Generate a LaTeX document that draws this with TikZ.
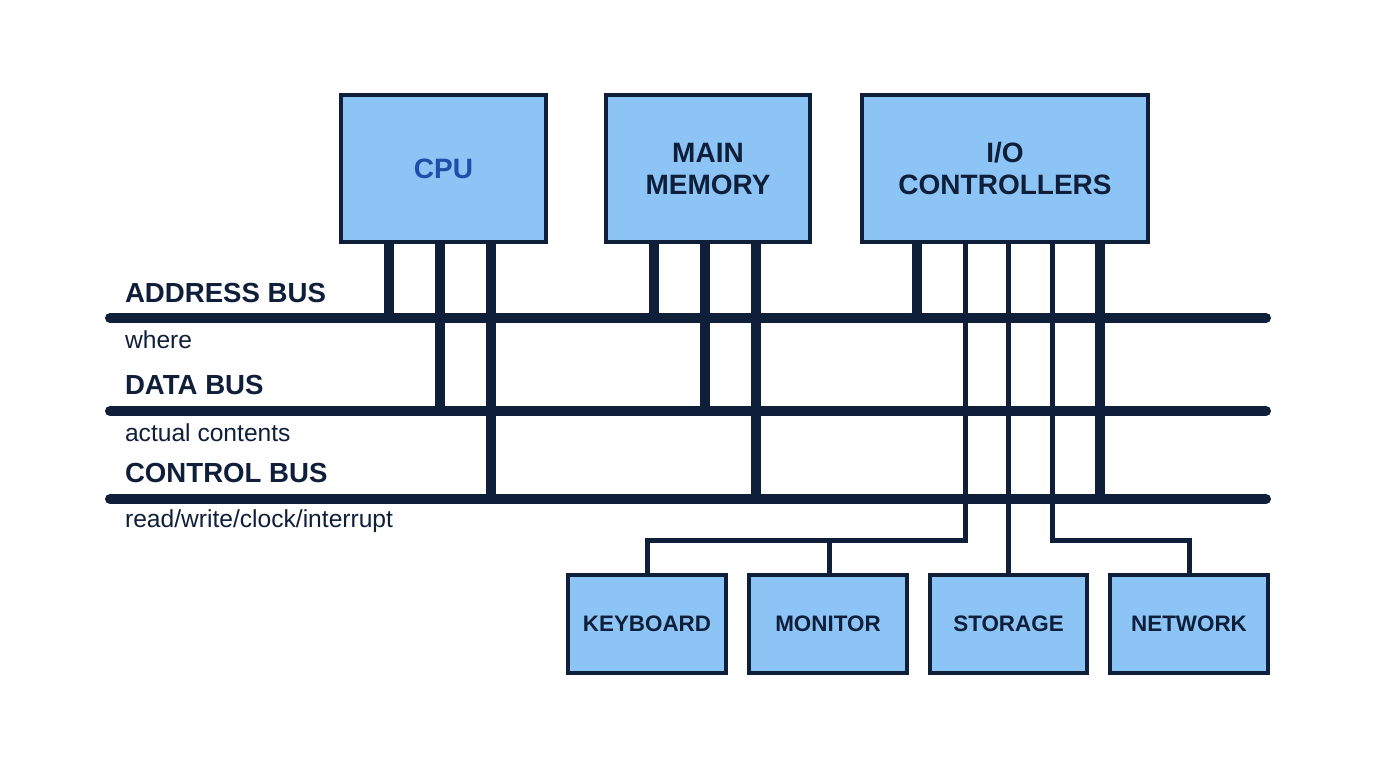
\documentclass[tikz,border=0pt]{standalone}
\usepackage{fontspec}
\setmainfont{Liberation Sans}
\begin{document}
\begin{tikzpicture}[x=0.5pt,y=-0.5pt,
  dk/.style={draw=navy,line width=2pt,fill=boxblue},
  bus/.style={navy,line width=5pt,line cap=round},
  tap/.style={navy,line width=5pt},
  thin/.style={navy,line width=2.5pt},
  big/.style={font=\fontsize{14}{16}\selectfont\bfseries,text=navy,align=center},
  sm/.style={font=\fontsize{11.2}{12}\selectfont\bfseries,text=navy},
  lab/.style={font=\fontsize{13.8}{15}\selectfont\bfseries,text=navy,anchor=west},
  sub/.style={font=\fontsize{12.3}{14}\selectfont,text=navy,anchor=west}]
\definecolor{navy}{HTML}{0F1F3A}
\definecolor{boxblue}{HTML}{8BC4F5}
\definecolor{cpublue}{HTML}{1E4FA8}
\useasboundingbox[fill=white] (0,0) rectangle (1376,768);
% buses
\coordinate (a0) at (110,318); \coordinate (a1) at (1266,318);
\coordinate (d0) at (110,411); \coordinate (d1) at (1266,411);
\coordinate (c0) at (110,499); \coordinate (c1) at (1266,499);
\draw[bus] (a0)--(a1); \draw[bus] (d0)--(d1); \draw[bus] (c0)--(c1);
% taps
\draw[tap] (389,242)--(389,318);
\draw[tap] (440,242)--(440,411);
\draw[tap] (491,242)--(491,499);
\draw[tap] (654,242)--(654,318);
\draw[tap] (705,242)--(705,411);
\draw[tap] (756,242)--(756,499);
\draw[tap] (917,242)--(917,318);
\draw[tap] (1100,242)--(1100,499);
% thin io lines
\draw[thin] (965,242)--(965,540)--(647,540)--(647,575);
\draw[thin] (829,540)--(829,575);
\draw[thin] (1008,242)--(1008,575);
\draw[thin] (1052,242)--(1052,540)--(1189,540)--(1189,575);
% boxes
\draw[dk] (341,95) rectangle (546,242) node[midway,big,text=cpublue] (cpu) {CPU};
\draw[dk] (606,95) rectangle (810,242) node[midway,big] (mem) {MAIN\\MEMORY};
\draw[dk] (862,95) rectangle (1148,242) node[midway,big] (io) {I/O\\CONTROLLERS};
\draw[dk] (568,575) rectangle (726,673) node[midway,sm] (kb) {KEYBOARD};
\draw[dk] (749,575) rectangle (907,673) node[midway,sm] (mon) {MONITOR};
\draw[dk] (930,575) rectangle (1087,673) node[midway,sm] (st) {STORAGE};
\draw[dk] (1110,575) rectangle (1268,673) node[midway,sm] (net) {NETWORK};
% labels
\node[lab] (la) at (118,293) {ADDRESS BUS};
\node[sub] (lw) at (118,340) {where};
\node[lab] (ld) at (118,385) {DATA BUS};
\node[sub] (lac) at (118,433) {actual contents};
\node[lab] (lc) at (118,473) {CONTROL BUS};
\node[sub] (lr) at (118,521) {read/write/clock/interrupt};
\end{tikzpicture}
\end{document}
